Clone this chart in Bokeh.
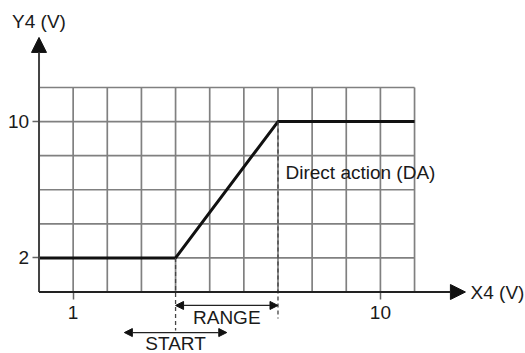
from bokeh.plotting import figure
from bokeh.models import Range1d, LinearAxis, FixedTicker, Arrow, NormalHead
from bokeh.core.properties import value
from bokeh.embed import file_html
from bokeh.resources import INLINE

# ---- data ----
grid_x = [0, 1, 2, 3, 4, 5, 6, 7, 8, 9, 10, 11]
grid_y = [0, 2, 4, 6, 8, 10, 12]
x_ticks = [1, 10]
x_tick_labels = ["1", "10"]
y_ticks = [2, 10]
y_tick_labels = ["2", "10"]
curve_x = [0, 4, 7, 11]
curve_y = [2, 2, 10, 10]
start_point = 4
range_end = 7
start_span = [2.5, 5.5]
x_axis_label = "X4 (V)"
y_axis_label = "Y4 (V)"
curve_label = "Direct action (DA)"
range_label = "RANGE"
start_label = "START"

FONT = "Liberation Sans"
TXT = "#1a1a1a"
FS = "19px"

p = figure(width=525, height=353, output_backend="svg", toolbar_location=None,
           x_range=Range1d(-1.128, 14.25), y_range=Range1d(-3.609, 17.107),
           x_axis_type=None, y_axis_type=None, min_border=0,
           outline_line_color=None, background_fill_color="white")

# grid
gx0, gx1 = min(grid_x), max(grid_x)
gy0, gy1 = min(grid_y), max(grid_y)
p.segment(x0=grid_x, y0=[gy0] * len(grid_x), x1=grid_x, y1=[gy1] * len(grid_x),
          line_color="#808080", line_width=1.7)
p.segment(x0=[gx0] * len(grid_y), y0=grid_y, x1=[gx1] * len(grid_y), y1=grid_y,
          line_color="#808080", line_width=1.7)

# axes (ticks + labels)
def style_axis(ax, standoff, tick_out):
    ax.axis_line_color = None
    ax.major_tick_in = 0
    ax.major_tick_out = tick_out
    ax.minor_tick_line_color = None
    ax.major_tick_line_color = "#666"
    ax.major_tick_line_width = 1.5
    ax.major_label_text_font = FONT
    ax.major_label_text_font_size = FS
    ax.major_label_text_color = TXT
    ax.major_label_standoff = standoff

xaxis = LinearAxis(fixed_location=0, ticker=FixedTicker(ticks=x_ticks),
                   major_label_overrides=dict(zip(x_ticks, x_tick_labels)))
style_axis(xaxis, 7, 7)
p.add_layout(xaxis, "below")

yaxis = LinearAxis(fixed_location=0, ticker=FixedTicker(ticks=y_ticks),
                   major_label_overrides=dict(zip(y_ticks, y_tick_labels)))
style_axis(yaxis, 3, 7)
p.add_layout(yaxis, "left")

# axis arrows
p.add_layout(Arrow(end=NormalHead(size=15, fill_color="#111", line_color="#111", line_width=1),
                   x_start=0, y_start=0, x_end=0, y_end=14.94,
                   line_color="#444", line_width=2))
p.add_layout(Arrow(end=NormalHead(size=15, fill_color="#111", line_color="#111", line_width=1),
                   x_start=0, y_start=0, x_end=12.49, y_end=0,
                   line_color="#222", line_width=2))

# curve
p.line(curve_x, curve_y, line_color="#111", line_width=3)

# dashed markers
p.segment(x0=[start_point, range_end], y0=[curve_y[1], curve_y[2]],
          x1=[start_point, range_end], y1=[-2.26, -1.56],
          line_color="#444", line_width=1.3, line_dash="4 3")

# RANGE / START arrows
for xs, xe, yy in [(start_point, range_end, -0.79), (start_span[0], start_span[1], -2.38)]:
    p.add_layout(Arrow(start=NormalHead(size=8, fill_color="#111", line_color="#111", line_width=1),
                       end=NormalHead(size=8, fill_color="#111", line_color="#111", line_width=1),
                       x_start=xs, y_start=yy, x_end=xe, y_end=yy,
                       line_color="#222", line_width=1.3))

# texts
common = dict(text_font=value(FONT), text_font_size=FS, text_color=TXT)
p.text(x=[0], y=[15.87], text=[y_axis_label], text_align="center", text_baseline="middle", **common)
p.text(x=[12.64], y=[-0.05], text=[x_axis_label], text_align="left", text_baseline="middle", **common)
p.text(x=[7.22], y=[7.0], text=[curve_label], text_align="left", text_baseline="middle", **common)
p.text(x=[(start_point + range_end) / 2], y=[-1.5], text=[range_label], text_align="center", text_baseline="middle", **common)
p.text(x=[start_point], y=[-3.0], text=[start_label], text_align="center", text_baseline="middle", **common)

open("out.html", "w").write(file_html(p, INLINE))
